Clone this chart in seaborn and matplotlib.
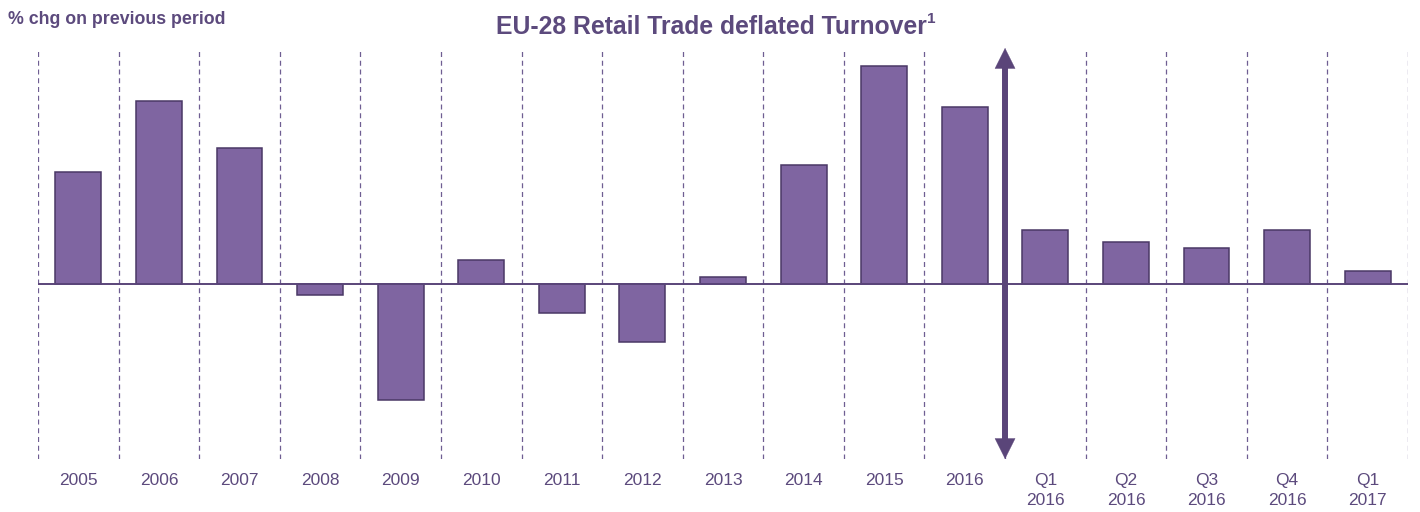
import matplotlib
matplotlib.use("Agg")
import matplotlib.pyplot as plt
import seaborn as sns
import pandas as pd

categories = ["2005", "2006", "2007", "2008", "2009", "2010", "2011", "2012", "2013",
              "2014", "2015", "2016", "Q1\n2016", "Q2\n2016", "Q3\n2016", "Q4\n2016", "Q1\n2017"]
values = [1.84, 3.0, 2.23, -0.18, -1.9, 0.39, -0.48, -0.95, 0.11,
          1.95, 3.57, 2.9, 0.89, 0.69, 0.59, 0.89, 0.21]

TEXT = "#5c4a7d"
BAR = "#7f65a1"
EDGE = "#4a3866"
DARK = "#5a4579"

sns.set_theme(style="white")
plt.rcParams["font.family"] = ["Liberation Sans", "DejaVu Sans"]

df = pd.DataFrame({"period": categories, "chg": values})

fig = plt.figure(figsize=(14.2, 5.12), dpi=100)
ax = fig.add_axes([38/1420, 1-459/512, (1408-38)/1420, (459-48)/512])

sns.barplot(data=df, x="period", y="chg", order=categories, color=BAR,
            saturation=1, width=0.57, edgecolor=EDGE, linewidth=1.1, ax=ax, zorder=3)

ymin, ymax = -2.87, 3.87
ax.set_xlim(-0.5, len(categories) - 0.5)
ax.set_ylim(ymin, ymax)

for i in range(len(categories) + 1):
    ax.axvline(i - 0.5, color="#6f5e92", lw=0.9, ls=(0, (4, 3)), zorder=1)
ax.axhline(0, color=DARK, lw=1.4, zorder=4)

# double-headed arrow: shaft + filled heads
ax.plot([11.5, 11.5], [ymin + 0.25, ymax - 0.25], color=DARK, lw=4.3,
        solid_capstyle="butt", zorder=5)
ax.annotate("", xy=(11.5, ymax), xytext=(11.5, ymin),
            arrowprops=dict(arrowstyle="<|-|>,head_length=0.72,head_width=0.36",
                            mutation_scale=20, lw=0.3, color=DARK,
                            shrinkA=0, shrinkB=0), zorder=6)

for s in ax.spines.values():
    s.set_visible(False)
ax.set_yticks([])
ax.set_xlabel("")
ax.set_ylabel("")
ax.tick_params(axis="x", length=0, pad=10, labelsize=12.5, labelcolor=TEXT)
for lab in ax.get_xticklabels():
    lab.set_linespacing(1.45)

fig.text(8/1420, 1-20/512, "% chg on previous period", fontsize=12.8,
         fontweight="bold", color=TEXT, va="center", ha="left")
t = fig.text(711/1420, 1-27/512, "EU-28 Retail Trade deflated Turnover", fontsize=17.8,
             fontweight="bold", color=TEXT, va="center", ha="center")
fig.canvas.draw()
bb = t.get_window_extent()
fig.text((bb.x1 + 1)/1420, (bb.y1 - 4)/512, "1", fontsize=11, fontweight="bold",
         color=TEXT, va="center", ha="left")

fig.savefig("out.png", dpi=100)
